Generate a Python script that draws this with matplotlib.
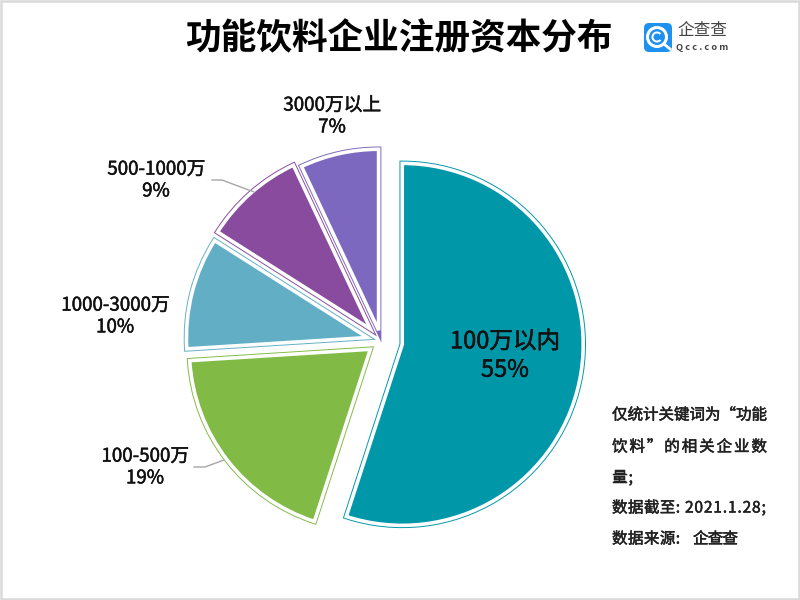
import matplotlib
matplotlib.use('Agg')
import matplotlib.pyplot as plt
import matplotlib.patheffects as pe
from matplotlib.patches import FancyBboxPatch, Circle, Wedge, Rectangle

plt.rcParams['font.family'] = ['Noto Sans CJK SC', 'DejaVu Sans']

labels = ['100万以内', '100-500万', '1000-3000万', '500-1000万', '3000万以上']
shares = [55, 19, 10, 9, 7]
colors = ['#0097a9', '#82ba46', '#62aec5', '#894b9d', '#7d68c0']
# pie() takes these in data units, here pixels
explode = [21.5, 13.5, 14, 16, 11]

title = '功能饮料企业注册资本分布'
# text, left, right, y
note_parts = [('仅统计关键词为“功能', 612, 767, 415),
              ('饮料”的相关企业数', 612, 767, 447),
              ('量;', 612, 634, 478),
              ('数据截至:', 612, 681, 508),
              ('2021.1.28;', 685, 767, 508),
              ('数据来源:', 612, 681, 539),
              ('企查查', 693, 738, 539)]

fig = plt.figure(figsize=(8, 6), dpi=100)
ax = fig.add_axes([0, 0, 1, 1])
medium = [pe.withStroke(linewidth=0.35, foreground='#111111')]


def py(y):
    # picture y runs downward, the axes upward
    return 600 - y


def draw_pie(lw, edge=None):
    wedges, _ = ax.pie(shares, explode=explode, colors=colors, startangle=90, counterclock=False,
                       center=(381, py(341)), radius=181,
                       wedgeprops={'linewidth': lw, 'joinstyle': 'miter'})
    for w, c in zip(wedges, colors):
        w.set_edgecolor(edge if edge else c)


def spread_text(line, x0, x1, y, size):
    # put the chars one by one so the line fills x0..x1
    items = [ax.text(0, py(y), ch, fontsize=size, ha='left', va='center', color='#222222',
                     path_effects=medium) for ch in line]
    renderer = fig.canvas.get_renderer()
    widths = [size * 100 / 72 * (1.0 if ord(ch) > 255 else 0.0) or
              t.get_window_extent(renderer).width + 1 for ch, t in zip(line, items)]
    gap = (x1 - x0 - sum(widths)) / max(len(line) - 1, 1)
    x = x0
    for t, w in zip(items, widths):
        t.set_x(x)
        x += w + gap


# outer line, white gap, then the fill on top
draw_pie(5.5 * 0.72)
draw_pie(3.6 * 0.72, 'white')

ax.set_xlim(0, 800)
ax.set_ylim(0, 600)
ax.axis('off')

# frame round the picture
ax.add_patch(Rectangle((1, 1), 798, 598, fill=False, edgecolor='#d9d9d9', linewidth=1.8))

ax.text(399, py(39), title, fontsize=25.7, fontweight='bold', ha='center', va='center', color='black')

label_pos = [(505, 356), (145, 467), (115, 316), (156, 180), (332, 116)]
for i in range(len(labels)):
    size = 17 if i == 0 else 13.5
    ax.text(label_pos[i][0], py(label_pos[i][1]), '%s\n%d%%' % (labels[i], shares[i]),
            fontsize=size, ha='center', va='center', color='#111111',
            linespacing=1.3 if i == 0 else 1.05, path_effects=medium)

# leader lines
ax.plot([194, 205, 224], [py(467), py(467), py(460)], color='#a6a6a6', lw=1)
ax.plot([212, 222, 254], [py(180), py(180), py(192)], color='#a6a6a6', lw=1)

for part in note_parts:
    spread_text(part[0], part[1], part[2], part[3], 11.2)

# logo
ax.add_patch(FancyBboxPatch((648, py(48)), 20, 21, boxstyle='round,pad=4,rounding_size=5',
                            facecolor='#1e90f0', edgecolor='none'))
ax.add_patch(Circle((657, py(37)), 9.5, fill=False, edgecolor='white', linewidth=2.2))
ax.add_patch(Wedge((657, py(37)), 5.5, 40, 320, width=2, facecolor='white', edgecolor='none'))
ax.plot([664, 670], [py(44), py(49)], color='white', lw=2)
ax.text(702, py(31), '企查查', fontsize=12, ha='center', va='center', color='#444444')
ax.text(702, py(47), 'Q c c . c o m', fontsize=6.7, fontweight='bold', ha='center', va='center', color='#444444')

fig.savefig('out.png', dpi=100)
